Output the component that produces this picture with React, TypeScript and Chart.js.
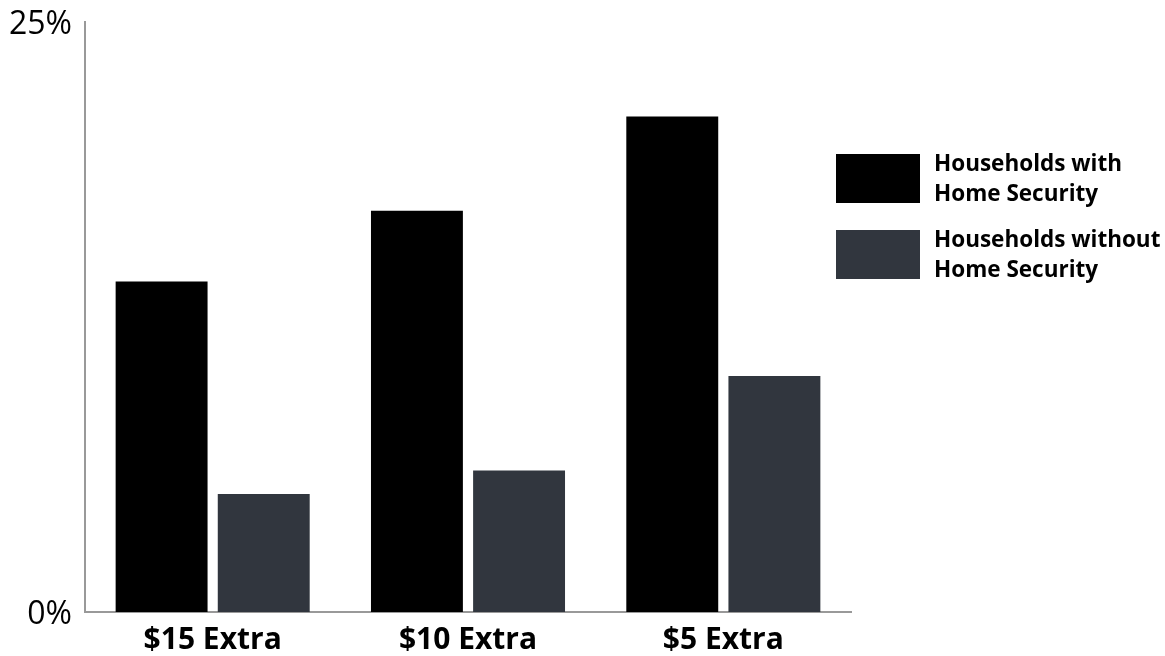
import React, { useEffect, useRef } from "react";
import { Chart, registerables } from "chart.js";

Chart.register(...registerables);

const categories = ["$15 Extra", "$10 Extra", "$5 Extra"];
const withSecurity = [14, 17, 21];
const withoutSecurity = [5, 6, 10];
const seriesNames = [["Households with", "Home Security"], ["Households without", "Home Security"]];
const seriesColors = ["#000000", "#31363e"];
const yTickLabels: Record<number, string> = { 0: "0%", 25: "25%" };

export default function App() {
  const ref = useRef<HTMLCanvasElement | null>(null);
  useEffect(() => {
    document.body.style.margin = "0";
    const chart = new Chart(ref.current!, {
      type: "bar",
      data: {
        labels: categories,
        datasets: [
          { label: seriesNames[0].join(" "), data: withSecurity, backgroundColor: seriesColors[0] },
          { label: seriesNames[1].join(" "), data: withoutSecurity, backgroundColor: seriesColors[1] },
        ],
      },
      options: {
        animation: false,
        responsive: false,
        layout: { padding: { top: 22, right: 314, left: 0, bottom: 0 } },
        plugins: { legend: { display: false }, tooltip: { enabled: false } },
        datasets: { bar: { categoryPercentage: 0.8, barPercentage: 0.9 } },
        scales: {
          x: {
            grid: { display: false, drawTicks: false },
            border: { display: true, color: "#999999", width: 2 },
            ticks: { color: "#000", font: { family: "'Open Sans'", size: 30, weight: "bold" }, padding: 10 },
            afterFit: (s: any) => { s.height = 44; },
          },
          y: {
            min: 0,
            max: 25,
            grid: { display: false, drawTicks: false },
            border: { display: true, color: "#999999", width: 2 },
            ticks: {
              stepSize: 25,
              color: "#000",
              padding: 13,
              labelOffset: 3,
              font: { family: "'Open Sans'", size: 32, lineHeight: 0.5 },
              callback: (v: any) => yTickLabels[v as number] ?? "",
            },
            afterFit: (s: any) => { s.width = 85; },
          },
        },
      },
    });
    return () => chart.destroy();
  }, []);

  const legendText: React.CSSProperties = {
    position: "absolute",
    left: 934,
    fontFamily: "'Open Sans'",
    fontWeight: 700,
    fontSize: 22.5,
    lineHeight: "30px",
    color: "#000",
    whiteSpace: "nowrap",
  };
  return (
    <div style={{ position: "relative", width: 1165, height: 656 }}>
      <canvas ref={ref} width={1165} height={656} style={{ position: "absolute", left: 0, top: 0 }} />
      <div style={{ position: "absolute", left: 836, top: 154, width: 84, height: 49, background: seriesColors[0] }} />
      <div style={{ ...legendText, top: 148 }}>{seriesNames[0][0]}<br />{seriesNames[0][1]}</div>
      <div style={{ position: "absolute", left: 836, top: 230, width: 84, height: 49, background: seriesColors[1] }} />
      <div style={{ ...legendText, top: 224 }}>{seriesNames[1][0]}<br />{seriesNames[1][1]}</div>
    </div>
  );
}
